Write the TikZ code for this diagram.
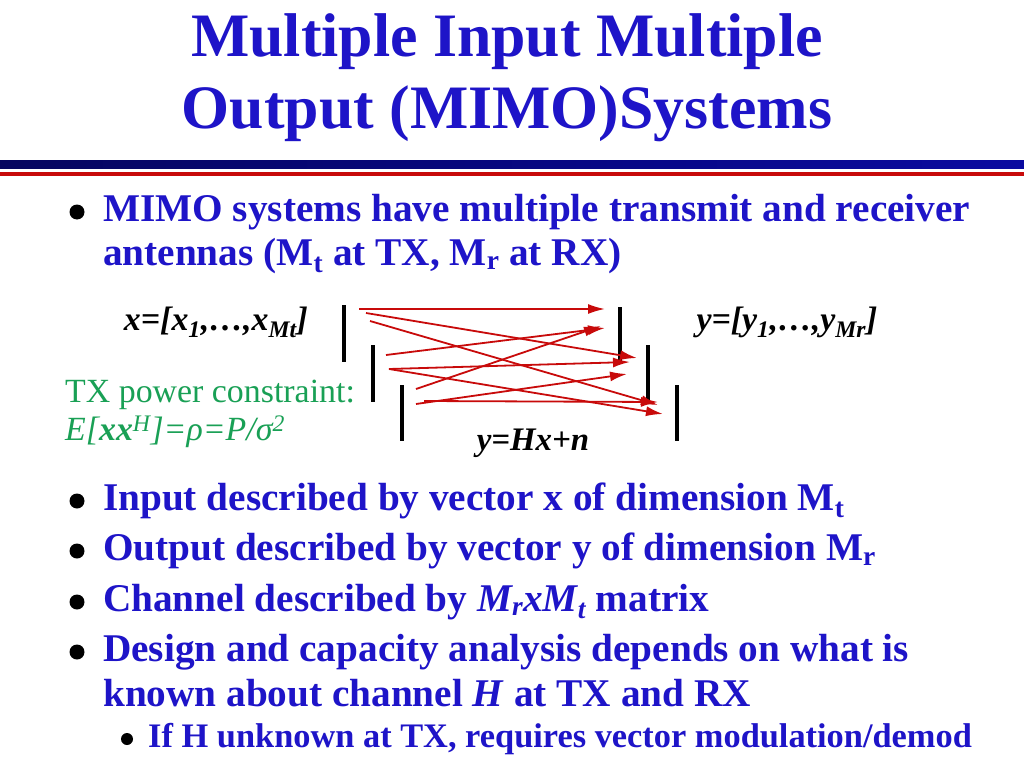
\documentclass[tikz,border=0pt]{standalone}
\usepackage{fontspec}
\setmainfont{Liberation Serif}
\begin{document}
\begin{tikzpicture}[x=1bp,y=-1bp,
  body/.style={anchor=west,inner sep=0pt,font=\fontsize{39.4}{44}\selectfont\bfseries,text=bodyblue},
  sub/.style={anchor=west,inner sep=0pt,font=\fontsize{34.5}{38}\selectfont\bfseries,text=bodyblue},
  dot/.style={circle,fill=black,inner sep=0pt,minimum size=15bp},
  sdot/.style={circle,fill=black,inner sep=0pt,minimum size=12bp},
  ant/.style={line width=4bp,black},
  ray/.style={draw=arrred,line width=1.8bp,-{Latex[length=17bp,width=10bp]}}]
\usetikzlibrary{arrows.meta}
\definecolor{titleblue}{RGB}{30,20,200}
\definecolor{bodyblue}{RGB}{30,20,200}
\definecolor{navy}{RGB}{5,5,95}
\definecolor{brightnavy}{RGB}{10,10,160}
\definecolor{arrred}{RGB}{200,10,10}
\definecolor{grn}{RGB}{25,160,85}
\useasboundingbox (0,0) rectangle (1024,768);
\fill[white] (0,0) rectangle (1024,768);
% title
\node[inner sep=0pt,font=\fontsize{62}{70}\selectfont\bfseries,text=titleblue] (t1) at (507,42) {Multiple Input Multiple};
\node[inner sep=0pt,font=\fontsize{62}{70}\selectfont\bfseries,text=titleblue] (t2) at (507,114) {Output (MIMO)Systems};
\shade[left color=navy,right color=brightnavy] (0,160) rectangle (1024,168);
\fill[arrred] (0,172) rectangle (1024,176);
% bullets
\node[dot] (b1) at (77,212) {};
\node[body] (l1) at (103,212) {MIMO systems have multiple transmit and receiver};
\node[body] (l1b) at (103,256) {antennas (M\textsubscript{t} at TX, M\textsubscript{r} at RX)};
\node[dot] (b2) at (77,501) {};
\node[body] (l2) at (103,501) {Input described by vector x of dimension M\textsubscript{t}};
\node[dot] (b3) at (77,551) {};
\node[body] (l3) at (103,551) {Output described by vector y of dimension M\textsubscript{r}};
\node[dot] (b4) at (77,602) {};
\node[body] (l4) at (103,602) {Channel described by \textit{M\textsubscript{r}xM\textsubscript{t}} matrix};
\node[dot] (b5) at (77,652) {};
\node[body] (l5) at (103,652) {Design and capacity analysis depends on what is};
\node[body] (l5b) at (103,693) {known about channel \textit{H} at TX and RX};
\node[sdot] (b6) at (127,739) {};
\node[sub] (l6) at (148,739) {If H unknown at TX, requires vector modulation/demod};
% labels
\node[inner sep=0pt,font=\fontsize{34}{38}\selectfont\bfseries\itshape] (xv) at (216,322) {x=[x\textsubscript{1},\dots,x\textsubscript{Mt}]};
\node[inner sep=0pt,font=\fontsize{34}{38}\selectfont\bfseries\itshape] (yv) at (787,322) {y=[y\textsubscript{1},\dots,y\textsubscript{Mr}]};
\node[inner sep=0pt,font=\fontsize{33}{38}\selectfont\bfseries\itshape] (eq) at (533,443) {y=Hx+n};
\node[anchor=west,inner sep=0pt,font=\fontsize{34}{38}\selectfont,text=grn] (pc) at (65,395) {TX power constraint:};
\node[anchor=west,inner sep=0pt,font=\fontsize{34}{38}\selectfont\itshape,text=grn] (pe) at (65,432) {E[\textbf{xx}\textsuperscript{H}]=ρ=P/σ\textsuperscript{2}};
% antennas
\draw[ant] (344,305) -- (344,362);
\draw[ant] (373,345) -- (373,402);
\draw[ant] (402,385) -- (402,441);
\draw[ant] (620,307) -- (620,362);
\draw[ant] (648,345) -- (648,400);
\draw[ant] (677,385) -- (677,441);
% rays
\coordinate (s1) at (359,309); \coordinate (e1) at (605,309);
\coordinate (s2) at (366,313); \coordinate (e2) at (637,358);
\coordinate (s3) at (370,321); \coordinate (e3) at (658,405);
\coordinate (s4) at (386,355); \coordinate (e4) at (605,328);
\coordinate (s5) at (389,369); \coordinate (e5) at (630,362);
\coordinate (e6) at (663,414);
\coordinate (s7) at (416,389); \coordinate (e7) at (601,326);
\coordinate (s8) at (416,404); \coordinate (e8) at (627,374);
\coordinate (s9) at (424,401); \coordinate (e9) at (658,402);
\draw[ray] (s1) -- (e1);
\draw[ray] (s2) -- (e2);
\draw[ray] (s3) -- (e3);
\draw[ray] (s4) -- (e4);
\draw[ray] (s5) -- (e5);
\draw[ray] (s5) -- (e6);
\draw[ray] (s7) -- (e7);
\draw[ray] (s8) -- (e8);
\draw[ray] (s9) -- (e9);
\end{tikzpicture}
\end{document}
